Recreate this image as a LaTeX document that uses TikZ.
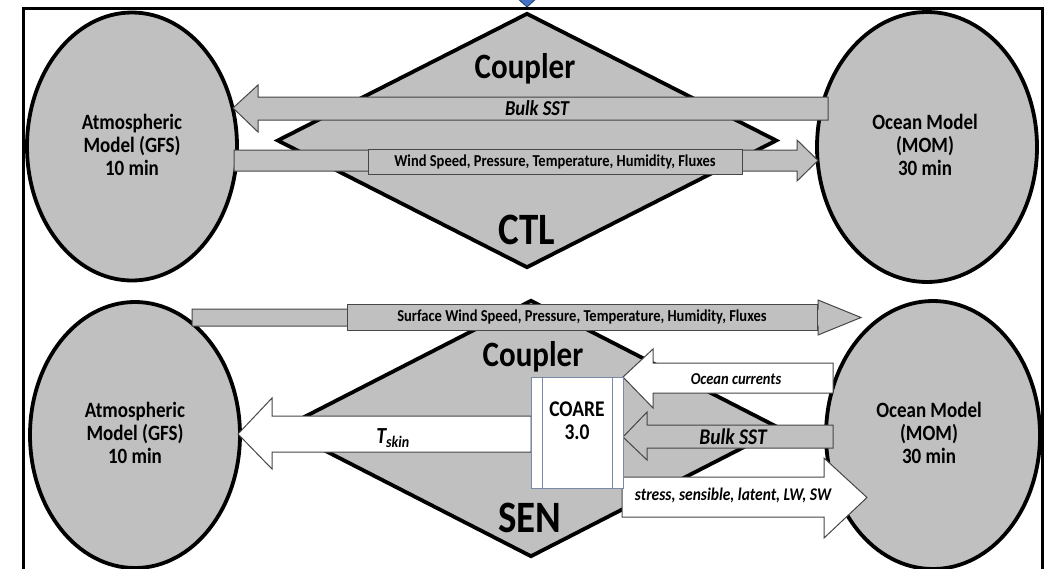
\documentclass[tikz,border=0pt]{standalone}
\usepackage{fontspec}
\setmainfont{Carlito}
\usetikzlibrary{shapes.geometric}
\definecolor{fillgray}{RGB}{192,192,192}
\definecolor{edgegray}{RGB}{70,70,70}
\definecolor{coareedge}{RGB}{120,138,165}
\definecolor{tipblue}{RGB}{68,114,196}
\newcommand{\vst}[1]{\scalebox{1}[1.15]{#1}}
\newcommand{\vstack}[1]{\scalebox{1}[1.15]{\begin{tabular}{@{}c@{}}#1\end{tabular}}}
\begin{document}
\begin{tikzpicture}[x=1pt,y=-1pt,
  blob/.style={fill=fillgray,draw=black,line width=3.8pt,inner sep=0pt},
  model/.style={ellipse,blob},
  coupler/.style={diamond,blob},
  grayarrow/.style={fill=fillgray,draw=edgegray,line width=1pt,line join=miter},
  whitearrow/.style={fill=white,draw=edgegray,line width=1pt,line join=miter},
  labelbox/.style={fill=fillgray,draw=edgegray,line width=1pt},
  modeltext/.style={font=\bfseries\fontsize{19}{20.2}\selectfont,inner sep=0pt},
  couplertext/.style={font=\bfseries\fontsize{31}{31}\selectfont,anchor=base},
  expttext/.style={font=\bfseries\fontsize{39}{39}\selectfont,anchor=base},
  smalltext/.style={font=\bfseries\fontsize{14.5}{16}\selectfont},
  ittext/.style={font=\bfseries\itshape\fontsize{#1}{#1}\selectfont},
  coarebox/.style={fill=white,draw=coareedge,line width=1pt}]
\useasboundingbox (0,0) rectangle (1046,568);
\clip (0,0) rectangle (1046,568);
% frame and blue tip
\draw[line width=3pt] (23,8) rectangle (1042,590);
\draw[fill=tipblue,draw=tipblue!50!black,line width=0.8pt] (516,-3) -- (538,-3) -- (527,7) -- cycle;

% ---------- CTL ----------
\node[model,minimum width=210pt,minimum height=268pt] (atm1) at (132,146.5) {};
\node[model,minimum width=220pt,minimum height=270pt] (ocn1) at (927,147) {};
\node[coupler,minimum width=500pt,minimum height=255pt] (cpl1) at (527,140.5) {};
\node[couplertext] (cpl1t) at (525,78) {\vst{Coupler}};
\node[expttext] (ctl) at (527,244) {\vst{CTL}};

\draw[grayarrow] (233,108) -- (258,85) -- (258,97) -- (828,97) -- (828,120) -- (258,120) -- (258,132) -- cycle;
\node[ittext=18.5] (sst1) at (537,108) {\vst{Bulk SST}};
\draw[grayarrow] (234,150) -- (797,150) -- (797,140) -- (818,160.5) -- (797,181) -- (797,171) -- (234,171) -- cycle;
\draw[labelbox] (368,149) rectangle (742,174);
\node[smalltext] (wind1) at (555,161.5) {\vst{Wind Speed, Pressure, Temperature, Humidity, Fluxes}};

\node[modeltext] (atm1t) at (132,148) {\vstack{Atmospheric\\Model (GFS)\\10 min}};
\node[modeltext] (ocn1t) at (925,148) {\vstack{Ocean Model\\(MOM)\\30 min}};

% ---------- SEN ----------
\node[model,minimum width=210pt,minimum height=266pt] (atm2) at (135,435) {};
\node[model,minimum width=214pt,minimum height=268pt] (ocn2) at (933,435) {};
\node[coupler,minimum width=500pt,minimum height=257pt] (cpl2) at (531,428.5) {};
\node[couplertext] (cpl2t) at (533,366) {\vst{Coupler}};
\node[expttext] (sen) at (530,532) {\vst{SEN}};

\draw[grayarrow] (192,309) -- (818,309) -- (818,300) -- (861,317.5) -- (818,335) -- (818,326) -- (192,326) -- cycle;
\draw[labelbox] (347,304) rectangle (817,330);
\node[smalltext] (wind2) at (582,317) {\vst{Surface Wind Speed, Pressure, Temperature, Humidity, Fluxes}};

\draw[whitearrow] (238,434) -- (272,398) -- (272,416) -- (531,416) -- (531,452) -- (272,452) -- (272,469) -- cycle;
\node[ittext=20] (tskin) at (393,438) {\vst{T\textsubscript{skin}}};

\draw[whitearrow] (623,377) -- (653,349) -- (653,363) -- (833,363) -- (833,393) -- (653,393) -- (653,408) -- cycle;
\node[ittext=14.5] (curr) at (736,379) {\vst{Ocean currents}};

\draw[grayarrow] (623,437) -- (647,412) -- (647,425) -- (833,425) -- (833,448) -- (647,448) -- (647,460) -- cycle;
\node[ittext=19.5] (sst2) at (733,437) {\vst{Bulk SST}};

\draw[whitearrow] (622,477) -- (824,477) -- (824,458) -- (867,497.5) -- (824,538) -- (824,517) -- (622,517) -- cycle;
\node[ittext=15.5] (flux) at (733,495) {\vst{stress, sensible, latent, LW, SW}};

\draw[coarebox] (531,377) rectangle (623,488);
\draw[coareedge,line width=1pt] (542,377) -- (542,488) (612,377) -- (612,488);
\node[font=\bfseries\fontsize{19.5}{20}\selectfont,inner sep=0pt] (coare) at (577,423) {\vstack{COARE\\3.0}};

\node[modeltext] (atm2t) at (135,436) {\vstack{Atmospheric\\Model (GFS)\\10 min}};
\node[modeltext] (ocn2t) at (929,436) {\vstack{Ocean Model\\(MOM)\\30 min}};
\end{tikzpicture}
\end{document}
